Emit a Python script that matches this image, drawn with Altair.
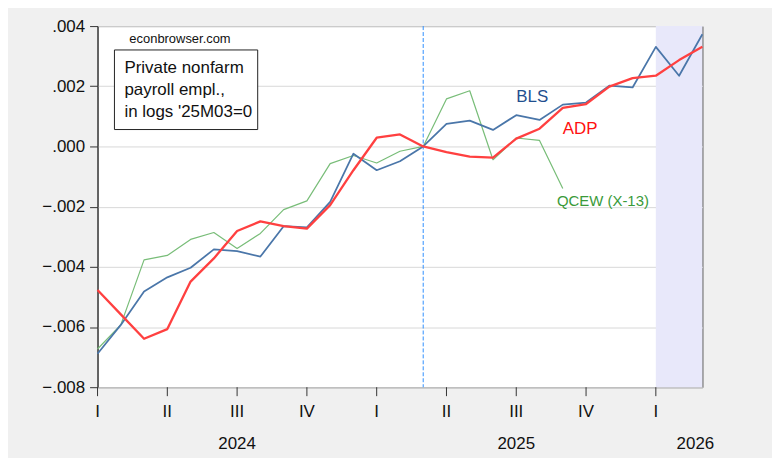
import altair as alt
import pandas as pd

# month index 0 = 2024M01 ... 26 = 2026M03
bls = [-0.00689, -0.00593, -0.00482, -0.00435, -0.00403, -0.00342, -0.00348, -0.00366,
       -0.00265, -0.00269, -0.00184, -0.00024, -0.00079, -0.00049, 0.0,
       0.00075, 0.00086, 0.00055, 0.00104, 0.00088, 0.00139, 0.00146,
       0.00202, 0.00196, 0.00331, 0.00235, 0.00373]
adp = [-0.00477, -0.00558, -0.00639, -0.00607, -0.00449, -0.00372, -0.00281, -0.00249,
       -0.00265, -0.00273, -0.00195, -0.00079, 0.00029, 0.00040, 0.0,
       -0.00019, -0.00034, -0.00037, 0.00026, 0.00059, 0.00128, 0.00141,
       0.00199, 0.00227, 0.00235, 0.00287, 0.00331]
qcew = [-0.00673, -0.00593, -0.00377, -0.00362, -0.00309, -0.00286, -0.00339, -0.00289,
        -0.00210, -0.00181, -0.00057, -0.00030, -0.00055, -0.00016, 0.0,
        0.00158, 0.00185, -0.00044, 0.00028, 0.00020, -0.00140]

series_names = ["QCEW (X-13)", "BLS", "ADP"]
series_colors = ["#78bd78", "#4a76a9", "#ff4040"]
year_labels = ["2024", "2025", "2026"]
year_pos = [6, 18, 25.7]
quarter_pos = [0, 3, 6, 9, 12, 15, 18, 21, 24]
quarter_labels = ["I", "II", "III", "IV", "I", "II", "III", "IV", "I"]

rows = []
for name, vals in zip(series_names, [qcew, bls, adp]):
    for i, v in enumerate(vals):
        rows.append({"m": i, "v": v, "series": name})
df = pd.DataFrame(rows)

W, H = 608, 363
FONT = "Liberation Sans"

xscale = alt.Scale(domain=[0, 26], nice=False, zero=False)
yscale = alt.Scale(domain=[-0.008, 0.004], nice=False, zero=False)

shade = alt.Chart(pd.DataFrame({"a": [24], "b": [26]})).mark_rect(
    color="#e8e8fa").encode(
    x=alt.X("a:Q", scale=xscale,
            axis=alt.Axis(values=list(range(27)), labels=False,
                          tickSize=4, tickColor="#333", domainColor="#333",
                          grid=False, title=None)),
    x2="b:Q",
    y=alt.value(0), y2=alt.value(H))

qdf = pd.DataFrame({"m": quarter_pos, "t": quarter_labels})
qticks = alt.Chart(qdf).mark_rule(color="#333", strokeWidth=1).encode(
    x=alt.X("m:Q", scale=xscale, axis=None),
    y=alt.value(H), y2=alt.value(H + 9))

qlabels = alt.Chart(qdf).mark_text(
    align="center", baseline="alphabetic", font=FONT, fontSize=17, color="#111").encode(
    x=alt.X("m:Q", scale=xscale, axis=None), y=alt.value(H + 30), text="t:N")

vline = alt.Chart(pd.DataFrame({"m": [14]})).mark_rule(
    color="#2f8fff", strokeDash=[4, 2], strokeWidth=1).encode(
    x=alt.X("m:Q", scale=xscale, axis=None))

lines = alt.Chart(df).mark_line(strokeJoin="round").encode(
    x=alt.X("m:Q", scale=xscale, axis=None),
    y=alt.Y("v:Q", scale=yscale,
            axis=alt.Axis(values=[-0.008, -0.006, -0.004, -0.002, 0.0, 0.002, 0.004],
                          labelExpr="replace(format(datum.value, '.3f'), '0.', '.')",
                          tickSize=8, tickColor="#333", domainColor="#333",
                          labelFont=FONT, labelFontSize=17, labelColor="#111",
                          labelPadding=5, gridColor="#d8d8d8", title=None)),
    color=alt.Color("series:N", scale=alt.Scale(domain=series_names, range=series_colors),
                    legend=None),
    strokeWidth=alt.StrokeWidth("series:N",
                                scale=alt.Scale(domain=series_names, range=[1.2, 2.3, 2.0]),
                                legend=None),
    order=alt.Order("m:Q"))

lab_df = pd.DataFrame({
    "m": [18.0, 20.0, 19.75],
    "v": [0.00147, 0.00040, -0.00199],
    "t": ["BLS", "ADP", "QCEW (X-13)"],
    "col": ["#1f4f8f", "#ff1010", "#3a9a3a"],
    "fs": [17, 17, 15],
})
labels = alt.Chart(lab_df).mark_text(align="left", baseline="alphabetic", font=FONT).encode(
    x=alt.X("m:Q", scale=xscale, axis=None),
    y=alt.Y("v:Q", scale=yscale),
    text="t:N",
    size=alt.Size("fs:Q", scale=None, legend=None),
    color=alt.Color("col:N", scale=None, legend=None))

years = alt.Chart(pd.DataFrame({"m": year_pos, "t": year_labels})).mark_text(
    align="center", baseline="alphabetic", font=FONT, fontSize=17, color="#111").encode(
    x=alt.X("m:Q", scale=xscale, axis=None), y=alt.value(H + 62), text="t:N")

site = alt.Chart(pd.DataFrame({"t": ["econbrowser.com"]})).mark_text(
    align="left", baseline="alphabetic", font=FONT, fontSize=13, color="#111").encode(
    x=alt.value(32), y=alt.value(17), text="t:N")

box = alt.Chart(pd.DataFrame({"a": [0]})).mark_rect(
    fill="white", stroke="#222", strokeWidth=1).encode(
    x=alt.value(17), x2=alt.value(161), y=alt.value(24), y2=alt.value(104))

boxtext = alt.Chart(pd.DataFrame({
    "t": ["Private nonfarm", "payroll empl.,", "in logs '25M03=0"],
    "yy": [47, 69, 91]})).mark_text(
    align="left", baseline="alphabetic", font=FONT, fontSize=17, color="#111").encode(
    x=alt.value(27), y=alt.Y("yy:Q", scale=None, axis=None),
    text="t:N")

chart = alt.layer(shade, qticks, qlabels, vline, lines, labels, years, site, box, boxtext).properties(
    width=W, height=H,
    background="#f0f0f0",
    autosize=alt.AutoSizeParams(type="none"),
    padding={"left": 90, "top": 17, "right": 70, "bottom": 70},
).configure_view(fill="white", stroke="#333", strokeWidth=1)

chart.save("out.html", embed_options={"renderer": "svg", "actions": False})
